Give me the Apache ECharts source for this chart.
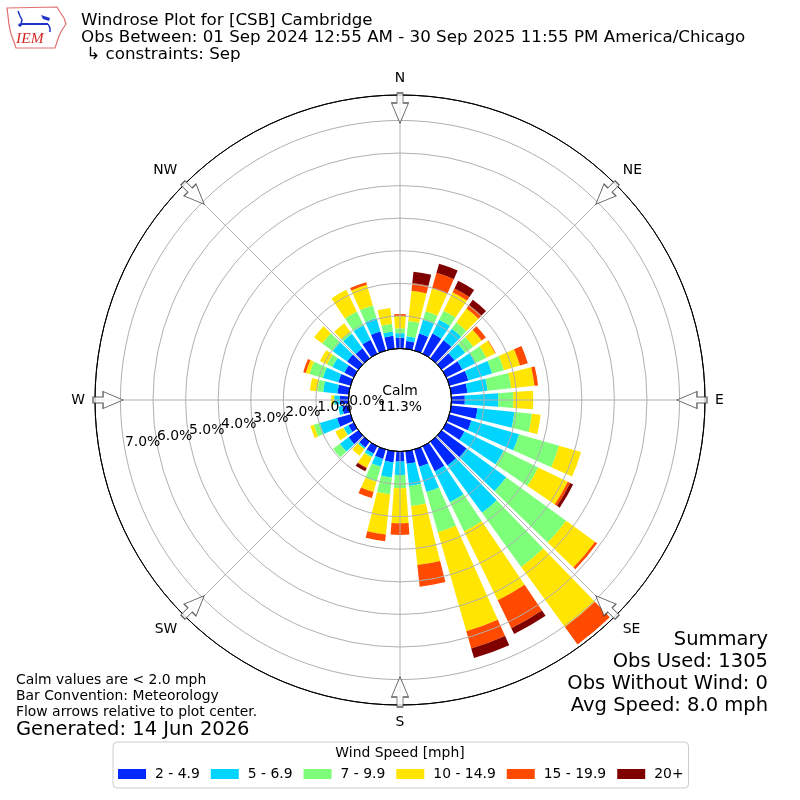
<!DOCTYPE html>
<html>
<head>
<meta charset="utf-8">
<script src="https://cdn.jsdelivr.net/npm/echarts@6/dist/echarts.min.js"></script>
<style>
html,body{margin:0;padding:0;background:#ffffff;}
#chart{width:800px;height:800px;}
</style>
</head>
<body>
<div id="chart"></div>
<script>
// ---------------- data ----------------
const DIRECTIONS = [0,10,20,30,40,50,60,70,80,90,100,110,120,130,140,150,160,170,
                    180,190,200,210,220,230,240,250,260,270,280,290,300,310,320,330,340,350];
const SPEED_BINS = ['2 - 4.9', '5 - 6.9', '7 - 9.9', '10 - 14.9', '15 - 19.9', '20+'];

// percent of observations per direction, per speed bin
const PCT_2_5   = [0.33,0.24,0.54,0.69,0.69,0.49,0.55,0.60,0.50,0.41,0.81,0.70,0.62,0.95,0.90,0.85,0.55,0.39,
                   0.31,0.34,0.30,0.25,0.22,0.37,0.18,0.43,0.20,0.27,0.35,0.39,0.32,0.43,0.38,0.48,0.61,0.40];
const PCT_5_7   = [0.14,0.15,0.44,0.47,0.43,0.40,0.44,0.76,0.62,1.03,1.14,1.52,1.34,1.50,1.80,1.06,0.81,0.68,
                   0.41,0.47,0.25,0.10,0.06,0.33,0.16,0.55,0.12,0.17,0.44,0.49,0.41,0.54,0.55,0.49,0.43,0.13];
const PCT_7_10  = [0.15,0.47,0.27,0.31,0.24,0.31,0.38,0.38,0.73,0.46,0.54,1.28,1.18,2.27,2.05,1.00,1.28,0.62,
                   0.41,0.52,0.48,0.04,0.00,0.26,0.02,0.19,0.00,0.01,0.18,0.43,0.18,0.40,0.08,0.47,0.40,0.24];
const PCT_10_15 = [0.38,0.93,0.74,0.63,0.53,0.32,0.30,0.51,0.72,0.61,0.27,0.70,1.01,1.10,2.28,2.35,3.16,1.82,
                   1.07,1.24,0.33,0.34,0.25,0.00,0.27,0.11,0.00,0.08,0.23,0.12,0.24,0.31,0.32,0.74,0.66,0.49];
const PCT_15_20 = [0.06,0.24,0.49,0.13,0.13,0.16,0.02,0.25,0.11,0.00,0.00,0.00,0.08,0.08,0.66,0.95,0.55,0.67,
                   0.36,0.21,0.19,0.02,0.00,0.00,0.00,0.00,0.00,0.00,0.00,0.08,0.00,0.00,0.00,0.00,0.08,0.00];
const PCT_20UP  = [0.00,0.35,0.29,0.26,0.20,0.00,0.00,0.00,0.00,0.00,0.00,0.00,0.10,0.00,0.00,0.20,0.31,0.00,
                   0.00,0.00,0.00,0.10,0.00,0.00,0.00,0.00,0.00,0.00,0.00,0.00,0.00,0.00,0.00,0.00,0.00,0.00];
const SERIES_VALUES = [PCT_2_5, PCT_5_7, PCT_7_10, PCT_10_15, PCT_15_20, PCT_20UP];

const COMPASS_NAMES = ['N','NE','E','SE','S','SW','W','NW'];
const COMPASS_DEG   = [0,45,90,135,180,225,270,315];
const RADIUS_MAX = 7.78;      // percent at outer circle
const ARROW_RADIUS = 7.38;    // percent where the flow arrows sit
const CALM_PCT = 11.3;

const TITLE_LINES = ['Windrose Plot for [CSB] Cambridge',
                     'Obs Between: 01 Sep 2024 12:55 AM - 30 Sep 2025 11:55 PM America/Chicago',
                     ' \u21b3 constraints: Sep'];
const NOTE_LINES = ['Calm values are < 2.0 mph', 'Bar Convention: Meteorology', 'Flow arrows relative to plot center.'];
const GENERATED = 'Generated: 14 Jun 2026';
const SUMMARY_LINES = ['Summary', 'Obs Used: 1305', 'Obs Without Wind: 0', 'Avg Speed: 8.0 mph'];
const LEGEND_TITLE = 'Wind Speed [mph]';

// ---------------- styles ----------------
const COLORS = ['#0028ff', '#00d4ff', '#7dff7a', '#ffe500', '#ff4a00', '#800000'];
const FONT = 'DejaVu Sans';
const GRID = '#b0b0b0';
const CENTER = [400, 400];
const RADII = [51.5, 305];
const LABEL_ANGLE = 190.3;

const chart = echarts.init(document.getElementById('chart'), null, {renderer: 'canvas'});

const hidden = {axisLine:{show:false}, axisTick:{show:false}, axisLabel:{show:false}, splitLine:{show:false}};

const barSeries = SPEED_BINS.map((name, i) => ({
  type: 'bar',
  name: name,
  coordinateSystem: 'polar',
  polarIndex: 0,
  stack: 'wind',
  data: SERIES_VALUES[i],
  barCategoryGap: '20%',
  itemStyle: {color: COLORS[i]},
  silent: true,
  z: 2
}));

const arrowSeries = {
  type: 'scatter',
  coordinateSystem: 'polar',
  polarIndex: 1,
  symbol: 'path://M5.5,0 L11.5,0 L11.5,10 L17,10 L8.5,30 L0,10 L5.5,10 Z',
  symbolSize: [17, 30],
  data: COMPASS_DEG.map(d => ({value: [ARROW_RADIUS, d], symbolRotate: -d})),
  itemStyle: {color: '#ffffff', borderColor: '#333333', borderWidth: 1},
  silent: true,
  z: 10
};

const ringColors = ['#000000'];
for (let i = 1; i <= 7; i++) ringColors.push(GRID);
ringColors.push('#000000');

function txt(text, x, y, size, align, extra) {
  return Object.assign({
    type: 'text', x: x, y: y, z: 100, silent: true,
    style: {text: text, fill: '#000', font: size + 'px "' + FONT + '"', textAlign: align, textVerticalAlign: 'middle'}
  }, extra || {});
}

const graphics = [];
TITLE_LINES.forEach((t, i) => graphics.push(txt(t, 81, [20.7, 37.8, 55][i], 16.7, 'left')));
NOTE_LINES.forEach((t, i) => graphics.push(txt(t, 16, [680, 696.3, 712.6][i], 13.9, 'left')));
graphics.push(txt(GENERATED, 16, 729.5, 19.5, 'left'));
SUMMARY_LINES.forEach((t, i) => graphics.push(txt(t, 768, [640, 662, 684, 706][i], 19.5, 'right')));
graphics.push(txt('Calm', 400, 391.5, 13.9, 'center'));
graphics.push(txt(CALM_PCT.toFixed(1) + '%', 400, 407.5, 13.9, 'center'));
graphics.push(txt(LEGEND_TITLE, 400, 753.5, 13.9, 'center'));
// IEM logo (approximation)
graphics.push({type:'polygon', z:100, silent:true,
  shape:{points:[[7,8],[57,7],[60,12],[64,18],[66,24],[62,30],[59,36],[57,42],[55,48],[16,48],[14,42],[11,34],[9,25],[8,16]]},
  style:{fill:'transparent', stroke:'#e07070', lineWidth:1.2}});
graphics.push({type:'line', z:100, silent:true, shape:{x1:21,y1:24,x2:48,y2:24}, style:{stroke:'#1f35c8', lineWidth:2}});
graphics.push({type:'polyline', z:100, silent:true, shape:{points:[[18,11],[20,16],[22,20],[21,24]]}, style:{stroke:'#1f35c8', lineWidth:1.5, fill:null}});
graphics.push({type:'polygon', z:100, silent:true, shape:{points:[[41,15],[50,18],[49,21],[43,19]]}, style:{fill:'#1f35c8'}});
graphics.push({type:'polyline', z:100, silent:true, shape:{points:[[48,24],[50,28],[50,32]]}, style:{stroke:'#1f35c8', lineWidth:1.5, fill:null}});
graphics.push({type:'circle', z:100, silent:true, shape:{cx:20,cy:25,r:1.8}, style:{fill:'#1f35c8'}});
graphics.push({type:'text', z:100, silent:true, x:16, y:38.5,
  style:{text:'IEM', fill:'#d42a2a', font:'italic 15.5px "Liberation Serif"', textAlign:'left', textVerticalAlign:'middle'}});

const pctLabel = {show: true, margin: 0, align: 'left', verticalAlign: 'bottom', fontSize: 13.9,
                  padding: [0, 0, 1, 0], color: '#000000', fontFamily: FONT,
                  showMaxLabel: false, hideOverlap: false};
const isWhole = v => Math.abs(v - Math.round(v)) < 1e-9;

const option = {
  animation: false,
  backgroundColor: '#ffffff',
  textStyle: {fontFamily: FONT},
  polar: [
    {center: CENTER, radius: RADII},
    {center: CENTER, radius: RADII},
    {center: CENTER, radius: RADII},
    {center: CENTER, radius: RADII}
  ],
  angleAxis: [
    Object.assign({polarIndex: 0, type: 'category', data: DIRECTIONS.map(String), startAngle: 95,
                   clockwise: true, boundaryGap: true}, hidden),
    {polarIndex: 1, type: 'value', min: 0, max: 360, interval: 45, startAngle: 90, clockwise: true, z: 5,
     axisLine: {show: true, lineStyle: {color: '#000000', width: 1}},
     axisTick: {show: false},
     axisLabel: {show: true, margin: 10, fontSize: 13.9, color: '#000000', fontFamily: FONT,
                 formatter: v => { const k = COMPASS_DEG.indexOf(v); return k >= 0 ? COMPASS_NAMES[k] : ''; }},
     splitLine: {show: true, lineStyle: {color: GRID, width: 1}}},
    Object.assign({polarIndex: 2, type: 'value', min: 0, max: 360, startAngle: LABEL_ANGLE, clockwise: true}, hidden),
    Object.assign({polarIndex: 3, type: 'value', min: 0, max: 360, startAngle: LABEL_ANGLE, clockwise: true}, hidden)
  ],
  radiusAxis: [
    Object.assign({polarIndex: 0, type: 'value', min: 0, max: RADIUS_MAX}, hidden),
    {polarIndex: 1, type: 'value', min: 0, max: RADIUS_MAX, interval: 1, z: 5,
     axisLine: {show: false}, axisTick: {show: false}, axisLabel: {show: false},
     splitLine: {show: true, lineStyle: {color: ringColors, width: 1}}},
    // 0.0 % label only
    {polarIndex: 2, type: 'value', min: 0, max: RADIUS_MAX, interval: 1, z: 8,
     axisLine: {show: false}, axisTick: {show: false}, splitLine: {show: false},
     axisLabel: Object.assign({}, pctLabel, {showMinLabel: true,
                 formatter: v => (v === 0 ? v.toFixed(1) + '%' : '')})},
    // 1.0 % ... 7.0 % labels
    {polarIndex: 3, type: 'value', min: 0, max: RADIUS_MAX, interval: 1, z: 8,
     axisLine: {show: false}, axisTick: {show: false}, splitLine: {show: false},
     axisLabel: Object.assign({}, pctLabel, {showMinLabel: false,
                 formatter: v => (v > 0 && isWhole(v) ? v.toFixed(1) + '%' : '')})}
  ],
  legend: {
    data: SPEED_BINS, left: 113, top: 742, orient: 'horizontal', icon: 'rect',
    itemWidth: 28, itemHeight: 10, itemGap: 11,
    padding: [25, 5, 7, 5], borderColor: '#cccccc', borderWidth: 1, borderRadius: 4,
    backgroundColor: '#ffffff', selectedMode: false,
    textStyle: {fontSize: 13.9, color: '#000000', fontFamily: FONT, padding: [0, 0, 0, 4]}
  },
  graphic: graphics,
  series: barSeries.concat([arrowSeries])
};
chart.setOption(option);
</script>
</body>
</html>
